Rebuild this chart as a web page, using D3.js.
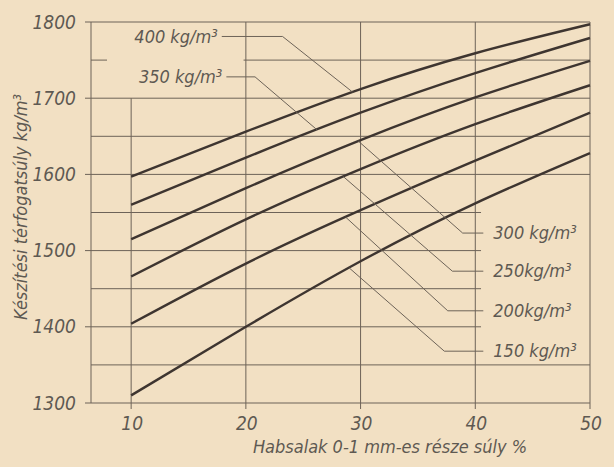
<!DOCTYPE html>
<html>
<head>
<meta charset="utf-8">
<script src="https://cdn.jsdelivr.net/npm/d3@7"></script>
<style>
  body { margin: 0; background: #f2e0c3; }
  text { font-family: "DejaVu Sans Condensed", "DejaVu Sans", sans-serif; font-style: italic; fill: #5e5952; }
</style>
</head>
<body>
<div class="svgContainer"></div>
<script>
// x: share of 0-1 mm foam slag (weight %), y: bulk density kg/m3
let xValues = [10, 20, 30, 40, 50];
let xTicks = [10, 20, 30, 40, 50];
let yTicks = [1300, 1400, 1500, 1600, 1700, 1800];
let yMinor = [1350, 1450, 1550, 1650, 1750];

let curveNames = ["400 kg/m³", "350 kg/m³", "300 kg/m³", "250kg/m³", "200kg/m³", "150 kg/m³"];
let c400 = [1597, 1656, 1712, 1759, 1797];
let c350 = [1560, 1622, 1681, 1733, 1779];
let c300 = [1515, 1582, 1645, 1701, 1749];
let c250 = [1466, 1541, 1607, 1666, 1717];
let c200 = [1404, 1483, 1553, 1618, 1681];
let c150 = [1310, 1400, 1486, 1562, 1628];
let series = [c400, c350, c300, c250, c200, c150];

// leader lines (data units): where it meets the curve, the knee, and the label end
let leaderCurveX = [29.3, 26.2, 29.8, 28.5, 28.7, 29.0];
let leaderKnee = [[23.2, 1781], [20.8, 1728], [38.9, 1523], [38.0, 1473], [37.6, 1421], [37.3, 1368]];
let leaderEndX = [17.9, 18.3, 40.7, 40.7, 40.7, 40.7];

let w = 614;
let h = 467;

let xScale = d3.scaleLinear()
    .domain([6.5, 50])
    .range([91, 590]);

let yScale = d3.scaleLinear()
    .domain([1300, 1800])
    .range([403, 22]);

const svg = d3.select(".svgContainer")
    .append("svg")
    .attr("width", w)
    .attr("height", h)
    .style("background-color", "#f2e0c3");

const gridColor = "#6d6358";

// horizontal grid lines
let hLines = yTicks.concat(yMinor).map(v => {
    let x1 = yTicks.includes(v) ? xScale.range()[0] - 6 : xScale.range()[0];
    let x2 = (v >= 1600 || v <= 1350) ? xScale.range()[1] : xScale(40.5);
    return { v: v, x1: x1, x2: x2 };
});

svg.selectAll(".hgrid")
    .data(hLines)
    .enter()
    .append("line")
    .attr("class", "hgrid")
    .attr("x1", d => d.v === 1750 ? xScale(19.8) : d.x1)
    .attr("x2", d => d.x2)
    .attr("y1", d => yScale(d.v))
    .attr("y2", d => yScale(d.v))
    .attr("stroke", gridColor)
    .attr("stroke-width", 1);

// small stub of the 1750 line at the left edge
svg.append("line")
    .attr("x1", xScale.range()[0])
    .attr("x2", xScale.range()[0] + 16)
    .attr("y1", yScale(1750))
    .attr("y2", yScale(1750))
    .attr("stroke", gridColor)
    .attr("stroke-width", 1);

// vertical grid lines + frame
let vLines = [6.5].concat(xTicks);
svg.selectAll(".vgrid")
    .data(vLines)
    .enter()
    .append("line")
    .attr("class", "vgrid")
    .attr("x1", d => xScale(d))
    .attr("x2", d => xScale(d))
    .attr("y1", d => d === 10 ? yScale(1700) : yScale(1800))
    .attr("y2", d => d === 6.5 ? yScale(1300) : yScale(1300) + 6)
    .attr("stroke", gridColor)
    .attr("stroke-width", 1);

// curves
let line = d3.line()
    .x((d, i) => xScale(xValues[i]))
    .y(d => yScale(d))
    .curve(d3.curveNatural);

svg.selectAll(".curve")
    .data(series)
    .enter()
    .append("path")
    .attr("class", "curve")
    .attr("d", d => line(d))
    .attr("fill", "none")
    .attr("stroke", "#3e3530")
    .attr("stroke-width", 2.4);

// value of a series at x (linear between read points)
function valueAt(s, x) {
    let i = Math.min(Math.max(d3.bisectRight(xValues, x) - 1, 0), xValues.length - 2);
    let t = (x - xValues[i]) / (xValues[i + 1] - xValues[i]);
    return s[i] + t * (s[i + 1] - s[i]);
}

// leaders
svg.selectAll(".leader")
    .data(series)
    .enter()
    .append("polyline")
    .attr("class", "leader")
    .attr("points", (s, i) => {
        let p0 = [xScale(leaderCurveX[i]), yScale(valueAt(s, leaderCurveX[i]))];
        let p1 = [xScale(leaderKnee[i][0]), yScale(leaderKnee[i][1])];
        let p2 = [xScale(leaderEndX[i]), yScale(leaderKnee[i][1])];
        return [p0, p1, p2].map(p => p.join(",")).join(" ");
    })
    .attr("fill", "none")
    .attr("stroke", gridColor)
    .attr("stroke-width", 1);

// curve labels
svg.selectAll(".clabel")
    .data(curveNames)
    .enter()
    .append("text")
    .attr("class", "clabel")
    .attr("x", (d, i) => i < 2 ? xScale(leaderEndX[i]) - 4 : xScale(leaderEndX[i]) + 10)
    .attr("y", (d, i) => yScale(leaderKnee[i][1]))
    .attr("dy", "0.35em")
    .attr("text-anchor", (d, i) => i < 2 ? "end" : "start")
    .attr("font-size", 18)
    .text(d => d);

// y tick labels
svg.selectAll(".ylabel")
    .data(yTicks)
    .enter()
    .append("text")
    .attr("class", "ylabel")
    .attr("x", 76)
    .attr("y", d => yScale(d))
    .attr("dy", "0.35em")
    .attr("text-anchor", "end")
    .attr("font-size", 19)
    .text(d => d);

// x tick labels
svg.selectAll(".xlabel")
    .data(xTicks)
    .enter()
    .append("text")
    .attr("class", "xlabel")
    .attr("x", d => xScale(d) + 1)
    .attr("y", 430)
    .attr("text-anchor", "middle")
    .attr("font-size", 19)
    .text(d => d);

svg.append("text")
    .attr("x", 390)
    .attr("y", 453)
    .attr("text-anchor", "middle")
    .attr("font-size", 18)
    .text("Habsalak 0-1 mm-es része súly %");

svg.append("text")
    .attr("transform", "rotate(-90)")
    .attr("x", -207)
    .attr("y", 27)
    .attr("text-anchor", "middle")
    .attr("font-size", 18)
    .text("Készítési térfogatsúly kg/m³");
</script>
</body>
</html>
